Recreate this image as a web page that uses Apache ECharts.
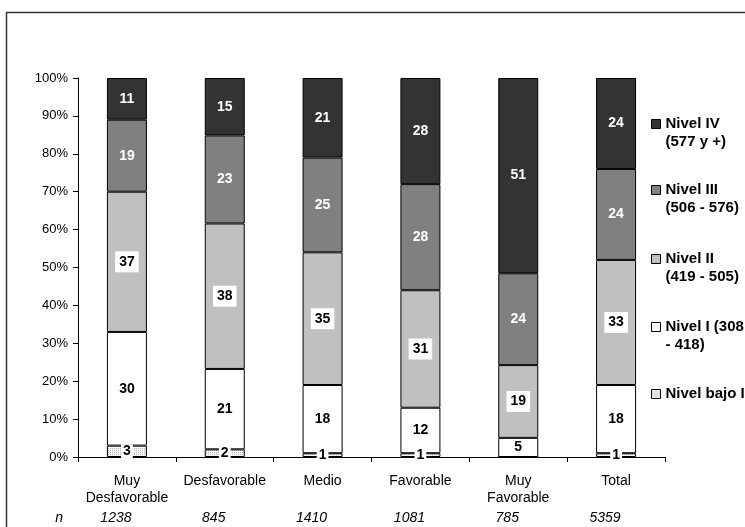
<!DOCTYPE html>
<html>
<head>
<meta charset="utf-8">
<script src="https://cdn.jsdelivr.net/npm/echarts@6/dist/echarts.min.js"></script>
<style>
  html, body { margin: 0; padding: 0; background: #fff; }
  #chart { width: 745px; height: 527px; }
</style>
</head>
<body>
<div id="chart"></div>
<script>
// categorías y tamaños de muestra
const categories = ['Muy\nDesfavorable', 'Desfavorable', 'Medio', 'Favorable', 'Muy\nFavorable', 'Total'];
const nValues = ['1238', '845', '1410', '1081', '785', '5359'];

// porcentajes por nivel (de abajo hacia arriba)
const nivelBajoI = [3, 2, 1, 1, 0, 1];
const nivelI = [30, 21, 18, 12, 5, 18];
const nivelII = [37, 38, 35, 31, 19, 33];
const nivelIII = [19, 23, 25, 28, 24, 24];
const nivelIV = [11, 15, 21, 28, 51, 24];

const seriesNames = ['Nivel bajo I', 'Nivel I (308\n- 418)', 'Nivel II\n(419 - 505)', 'Nivel III\n(506 - 576)', 'Nivel IV\n(577 y +)'];
const yTicks = [0, 10, 20, 30, 40, 50, 60, 70, 80, 90, 100];

const font = 'Arial, "Liberation Sans", sans-serif';

// trama punteada para "Nivel bajo I"
const dots = document.createElement('canvas');
dots.width = 2;
dots.height = 2;
const dctx = dots.getContext('2d');
dctx.fillStyle = '#f6f6f6';
dctx.fillRect(0, 0, 2, 2);
dctx.fillStyle = '#b4b4b4';
dctx.fillRect(0, 0, 1, 1);
const dotPattern = { image: dots, repeat: 'repeat' };

const allLevels = [nivelBajoI, nivelI, nivelII, nivelIII, nivelIV];
// Excel normaliza cada columna al 100%
const totals = categories.map((_, i) => allLevels.reduce((s, arr) => s + arr[i], 0));

const styles = [
  { color: dotPattern, label: { color: '#000', backgroundColor: '#fff', padding: [0, 2] } },
  { color: '#ffffff', label: { color: '#000' } },
  { color: '#c0c0c0', label: { color: '#000', backgroundColor: '#fff', padding: [4, 4, 3, 4] } },
  { color: '#808080', label: { color: '#fff' } },
  { color: '#333333', label: { color: '#fff' } },
];

const series = allLevels.map((arr, k) => ({
  name: seriesNames[k],
  type: 'bar',
  stack: 'total',
  barWidth: 40,
  itemStyle: { color: styles[k].color, borderColor: '#000', borderWidth: 1 },
  label: Object.assign({
    show: true,
    position: 'inside',
    fontFamily: font,
    fontWeight: 'bold',
    fontSize: 14,
    formatter: (p) => String(p.data.raw),
  }, styles[k].label),
  data: arr.map((v, i) => ({
    value: v / totals[i] * 100,
    raw: v,
    label: v === 0 ? { show: false } : undefined,
  })),
}));

// leyenda: un componente por nivel, de arriba hacia abajo
// (línea vacía al inicio para que el cuadro quede a la altura de la 1ª línea)
const legendTops = [97, 163, 232, 300, 385];
const legend = seriesNames.slice().reverse().map((name, i) => ({
  data: [name],
  orient: 'vertical',
  left: 651,
  top: legendTops[i],
  padding: 0,
  itemGap: 0,
  itemWidth: 9,
  itemHeight: 9,
  icon: 'rect',
  selectedMode: false,
  formatter: (n) => (n.indexOf('\n') >= 0 ? '\n' + n : n),
  itemStyle: { borderColor: '#000', borderWidth: 1 },
  textStyle: {
    fontFamily: font,
    fontWeight: 'bold',
    fontSize: 15,
    lineHeight: 18,
    color: '#000',
  },
}));

const chart = echarts.init(document.getElementById('chart'));

chart.setOption({
  animation: false,
  backgroundColor: '#fff',
  graphic: [{
    type: 'rect',
    shape: { x: 6.5, y: 12.5, width: 900, height: 700 },
    style: { fill: 'none', stroke: '#333', lineWidth: 1.5 },
    silent: true,
  }],
  legend: legend,
  grid: { left: 78, right: 80, top: 78, bottom: 70 },
  xAxis: [
    {
      type: 'category',
      data: categories,
      axisLine: { lineStyle: { color: '#000', width: 1 } },
      axisTick: { show: true, inside: false, length: 5, lineStyle: { color: '#000' } },
      axisLabel: {
        interval: 0,
        color: '#000',
        fontFamily: font,
        fontSize: 14,
        lineHeight: 17,
        margin: 16,
      },
    },
    {
      type: 'category',
      data: nValues,
      position: 'bottom',
      offset: 61,
      axisLine: { show: false },
      axisTick: { show: false },
      name: 'n',
      nameLocation: 'start',
      nameGap: 15,
      nameTextStyle: { fontFamily: font, fontStyle: 'italic', fontSize: 14, color: '#000', verticalAlign: 'middle' },
      axisLabel: {
        interval: 0,
        color: '#000',
        fontFamily: font,
        fontStyle: 'italic',
        fontSize: 14,
        margin: 0,
        padding: [0, 22, 0, 0],
        verticalAlign: 'middle',
      },
    },
  ],
  yAxis: {
    type: 'value',
    min: yTicks[0],
    max: yTicks[yTicks.length - 1],
    interval: 10,
    axisLine: { show: true, lineStyle: { color: '#000', width: 1 } },
    axisTick: { show: true, inside: false, length: 5, lineStyle: { color: '#000' } },
    splitLine: { show: false },
    axisLabel: {
      color: '#000',
      fontFamily: font,
      fontSize: 13,
      margin: 10,
      formatter: '{value}%',
    },
  },
  series: series,
});
</script>
</body>
</html>
